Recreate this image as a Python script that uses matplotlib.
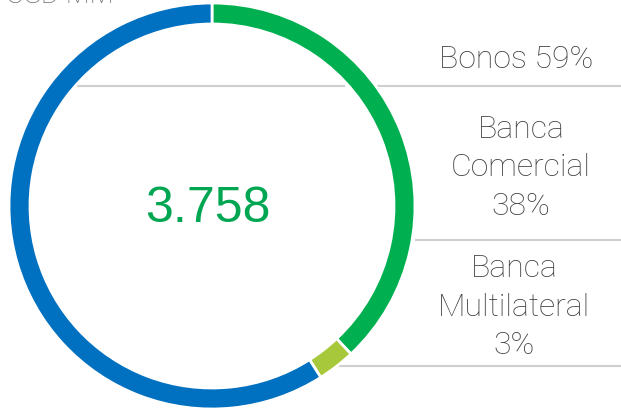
import matplotlib.pyplot as plt

# data
labels = ["Banca Comercial", "Banca Multilateral", "Bonos"]
shares = [38, 3, 59]
colors = ["#00B050", "#A6C83A", "#0070C0"]
total_txt = "3.758"
unit_txt = "USD MM"
label_txt = ["Bonos 59%", "Banca\nComercial\n38%", "Banca\nMultilateral\n3%"]

W, H = 621, 411
fig = plt.figure(figsize=(W / 100, H / 100), dpi=100)
ax = fig.add_axes([0, 0, 1, 1])

cx, cy, r = 212, H - 206, 203

# grey separator lines behind the ring
grey = "#CFCFCF"
for y, segs in [(86, [(77, 345), (377, W)]),
                (240, [(415, W)]),
                (366, [(323, W)])]:
    for x0, x1 in segs:
        ax.plot([x0, x1], [H - y, H - y], color=grey, lw=1.5, zorder=1,
                solid_capstyle="butt")

ax.pie(shares, colors=colors, startangle=90, counterclock=False,
       center=(cx, cy), radius=r, frame=True,
       wedgeprops=dict(width=21, edgecolor="white", linewidth=2, zorder=2))
ax.set_xlim(0, W)
ax.set_ylim(0, H)
ax.set_aspect("equal")
ax.axis("off")

ax.text(208, H - 209, total_txt, color="#00A651", fontsize=36,
        family="Liberation Sans", ha="center", va="center")

txt_col = "#404040"
lab_font = dict(family="Roboto", weight="light", fontsize=23, color=txt_col,
                ha="center", va="center", linespacing=1.4, multialignment="center")
ax.text(516, H - 59, label_txt[0], **lab_font)
ax.text(521, H - 168, label_txt[1], **lab_font)
ax.text(514, H - 307, label_txt[2], **lab_font)

ax.text(6, H - 3, unit_txt, family="Roboto", weight="light", fontsize=20,
        color="#6B6B6B", ha="left", va="baseline")

fig.savefig("out.png", dpi=100)
